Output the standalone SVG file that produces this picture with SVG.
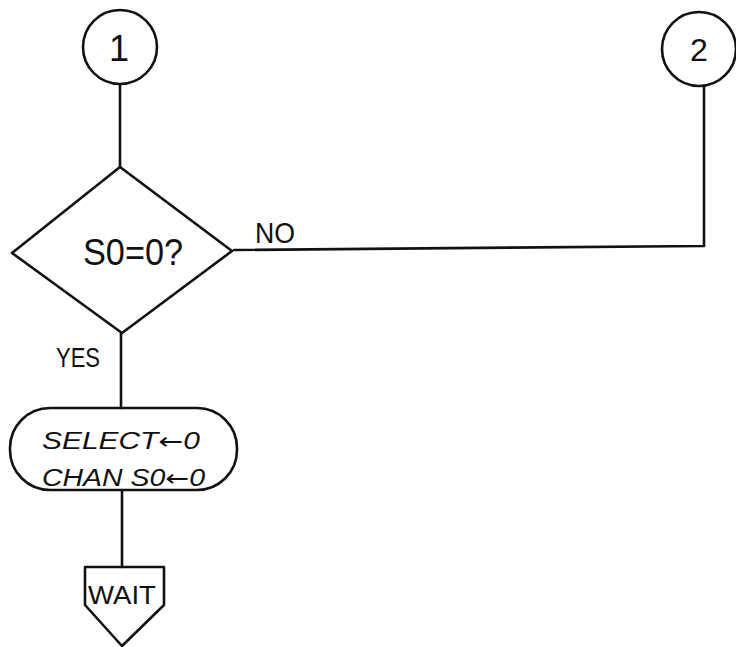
<svg xmlns="http://www.w3.org/2000/svg" width="736" height="647" viewBox="0 0 736 647">
<style>
.s{fill:none;stroke:#111;stroke-width:2.6;stroke-linejoin:round;stroke-linecap:round}
.t{font-family:"Liberation Sans",Arial,sans-serif;fill:#111;font-weight:normal}
.a{font-family:"DejaVu Sans",sans-serif;font-style:normal}
</style>
<rect width="736" height="647" fill="#fff"/>
<g id="connectors">
<path class="s" d="M120 85 V167"/>
<path class="s" d="M121 333 V408"/>
<path class="s" d="M122 490 V567"/>
<path class="s" d="M234 250 L704 246 V86"/>
<text class="t" x="255" y="243" font-size="29" textLength="40" lengthAdjust="spacingAndGlyphs">NO</text>
<text class="t" x="56" y="367" font-size="27" textLength="44" lengthAdjust="spacingAndGlyphs">YES</text>
</g>
<g id="c1">
<circle class="s" cx="120" cy="47" r="37"/>
<text class="t" x="119" y="61" font-size="36" text-anchor="middle">1</text>
</g>
<g id="c2">
<circle class="s" cx="699" cy="49" r="37"/>
<text class="t" x="699" y="61" font-size="32" text-anchor="middle">2</text>
</g>
<g id="decision">
<path class="s" d="M120 167 L232 251 L122 333 L12 253 Z"/>
<text class="t" x="83" y="265" font-size="36" textLength="100" lengthAdjust="spacingAndGlyphs">S0=0?</text>
</g>
<g id="terminal">
<rect class="s" x="10" y="408" width="227" height="82" rx="40"/>
<text class="t" x="42" y="449" font-size="23" font-style="italic" textLength="158" lengthAdjust="spacingAndGlyphs">SELECT<tspan class="a">←</tspan>0</text>
<text class="t" x="42" y="486" font-size="23" font-style="italic" textLength="163" lengthAdjust="spacingAndGlyphs">CHAN S0<tspan class="a">←</tspan>0</text>
</g>
<g id="wait">
<path class="s" d="M85 567 H164 V605 L122 646 L85 605 Z"/>
<text class="t" x="88" y="604" font-size="26" textLength="68" lengthAdjust="spacingAndGlyphs">WAIT</text>
</g>
</svg>
